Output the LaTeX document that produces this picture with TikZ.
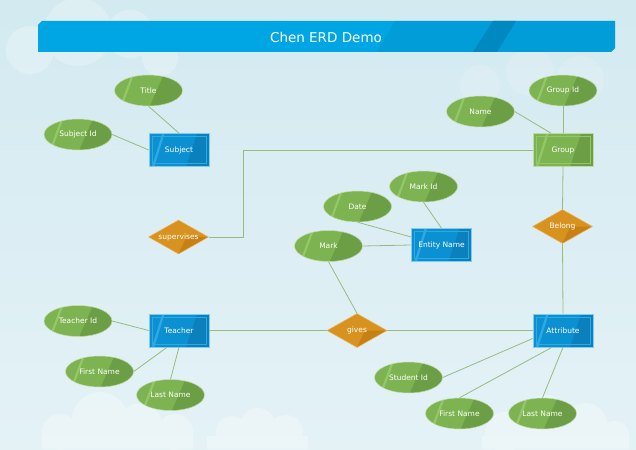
\documentclass[tikz,border=0pt]{standalone}
\usepackage{fontspec}
\setmainfont{DejaVu Sans}
\usetikzlibrary{shapes.geometric,calc}
\definecolor{bgtop}{HTML}{D3EAF1}
\definecolor{bgbot}{HTML}{E4F2F6}
\definecolor{gmid}{HTML}{7DB351}
\definecolor{gdark}{HTML}{6C9F45}
\definecolor{glight}{HTML}{94C768}
\definecolor{bmid}{HTML}{0B90D1}
\definecolor{bdark}{HTML}{0A80BD}
\definecolor{blight}{HTML}{2FA9E4}
\definecolor{omid}{HTML}{D8921F}
\definecolor{odark}{HTML}{C68014}
\definecolor{olight}{HTML}{EDB45A}
\definecolor{linec}{HTML}{97BC80}
\definecolor{barc}{HTML}{00A6E3}
\definecolor{bardark}{HTML}{0089C0}
\tikzset{
  attr/.style={ellipse, minimum width=68pt, minimum height=31pt, inner sep=0pt,
    fill=gmid, draw=white!55!gmid, line width=0.5pt, text=white,
    font=\fontsize{7.5}{8}\selectfont,
    path picture={
      \fill[gdark] ($(path picture bounding box.north west)!0.72!(path picture bounding box.north east)$)
        -- (path picture bounding box.north east) -- (path picture bounding box.south east)
        -- ($(path picture bounding box.south west)!0.52!(path picture bounding box.south east)$) -- cycle;
      \fill[glight] ($(path picture bounding box.north west)!0.25!(path picture bounding box.north east)$)
        -- ($(path picture bounding box.north west)!0.285!(path picture bounding box.north east)$)
        -- ($(path picture bounding box.south west)!0.115!(path picture bounding box.south east)$)
        -- ($(path picture bounding box.south west)!0.08!(path picture bounding box.south east)$) -- cycle;
    }},
  entbox/.style={rectangle, minimum width=60pt, minimum height=33pt, inner sep=0pt,
    fill=bmid, draw=blight!60!white, line width=0.6pt, text=white,
    font=\fontsize{7.5}{8}\selectfont,
    path picture={
      \fill[bdark] ($(path picture bounding box.north west)!0.80!(path picture bounding box.north east)$)
        -- (path picture bounding box.north east) -- (path picture bounding box.south east)
        -- ($(path picture bounding box.south west)!0.62!(path picture bounding box.south east)$) -- cycle;
      \fill[blight] ($(path picture bounding box.north west)!0.22!(path picture bounding box.north east)$)
        -- ($(path picture bounding box.north west)!0.26!(path picture bounding box.north east)$)
        -- ($(path picture bounding box.south west)!0.09!(path picture bounding box.south east)$)
        -- ($(path picture bounding box.south west)!0.05!(path picture bounding box.south east)$) -- cycle;
      \draw[blight, line width=0.5pt] ([shift={(3pt,-3pt)}]path picture bounding box.north west)
        rectangle ([shift={(-3pt,3pt)}]path picture bounding box.south east);
    }},
  grpbox/.style={entbox, fill=gmid, draw=white!50!gmid,
    path picture={
      \fill[gdark] ($(path picture bounding box.north west)!0.80!(path picture bounding box.north east)$)
        -- (path picture bounding box.north east) -- (path picture bounding box.south east)
        -- ($(path picture bounding box.south west)!0.62!(path picture bounding box.south east)$) -- cycle;
      \fill[glight] ($(path picture bounding box.north west)!0.22!(path picture bounding box.north east)$)
        -- ($(path picture bounding box.north west)!0.26!(path picture bounding box.north east)$)
        -- ($(path picture bounding box.south west)!0.09!(path picture bounding box.south east)$)
        -- ($(path picture bounding box.south west)!0.05!(path picture bounding box.south east)$) -- cycle;
      \draw[glight, line width=0.5pt] ([shift={(3pt,-3pt)}]path picture bounding box.north west)
        rectangle ([shift={(-3pt,3pt)}]path picture bounding box.south east);
    }},
  rel/.style={diamond, minimum width=60pt, minimum height=34pt, inner sep=0pt,
    fill=omid, draw=olight, line width=0.5pt,
    path picture={
      \fill[odark] (path picture bounding box.east) -- (path picture bounding box.south)
        -- ($(path picture bounding box.south)!0.5!(path picture bounding box.north)+(8pt,0)$) -- cycle;
    },
    label={[text=white, font=\fontsize{7.5}{8}\selectfont]center:#1}},
  conn/.style={draw=linec, line width=0.8pt},
  cloud/.style={fill=white, fill opacity=0.3, draw=none}
}
\begin{document}
\begin{tikzpicture}[x=1pt,y=-1pt]
\useasboundingbox (0,0) rectangle (636,449);
% background
\fill[top color=bgtop, bottom color=bgbot] (0,0) rectangle (636,449);
\fill[cloud, fill opacity=0.25] (30,50) circle (24pt) (78,32) circle (34pt) (130,34) circle (24pt) (160,58) circle (18pt);
\fill[cloud, fill opacity=0.15] (480,85) circle (20pt) (530,72) circle (24pt) (580,80) circle (24pt);
\fill[cloud] (60,432) circle (18pt) (100,420) circle (28pt) (140,425) circle (22pt) (175,432) circle (18pt) (42,432) rectangle (193,449);
\fill[cloud] (232,432) circle (16pt) (258,425) circle (17pt) (286,432) circle (17pt) (207,436) rectangle (308,449);
\fill[cloud] (505,432) circle (20pt) (545,420) circle (25pt) (585,425) circle (22pt) (615,435) circle (14pt) (482,436) rectangle (629,449);
% title bar
\fill[barc] (38,25) -- (42,21) -- (615,21) -- (615,48) -- (611,52) -- (38,52) -- cycle;
\fill[bardark, opacity=0.3] (395,21) -- (615,21) -- (615,48) -- (611,52) -- (377,52) -- cycle;
\fill[bardark] (493,21) -- (516,21) -- (497,52) -- (473,52) -- cycle;
\node[text=white, font=\fontsize{13.5}{15}\selectfont] (ttl) at (326,37) {Chen ERD Demo};
% entities
\node[entbox] (subject) at (179,150) {Subject};
\node[grpbox] (group) at (563,150) {Group};
\node[entbox] (ent) at (441.5,245) {Entity Name};
\node[entbox] (teacher) at (179,330.5) {Teacher};
\node[entbox] (attrib) at (563,330.5) {Attribute};
% attributes
\node[attr] (title) at (148.5,90.5) {Title};
\node[attr] (subid) at (78,134.5) {Subject Id};
\node[attr] (gid) at (563,90.5) {Group Id};
\node[attr] (gname) at (480.5,111.5) {Name};
\node[attr] (markid) at (423.5,186.5) {Mark Id};
\node[attr] (date) at (357.5,206.5) {Date};
\node[attr] (mark) at (328.5,246) {Mark};
\node[attr] (tid) at (78,321) {Teacher Id};
\node[attr] (fn1) at (99.5,371.5) {First Name};
\node[attr] (ln1) at (170.5,395) {Last Name};
\node[attr] (sid) at (408.5,377.5) {Student Id};
\node[attr] (fn2) at (459.5,413.5) {First Name};
\node[attr] (ln2) at (542.5,413.5) {Last Name};
% relationships
\node[rel=supervises] (sup) at (178.5,237) {};
\node[rel=Belong] (belong) at (562.5,226.5) {};
\node[rel=gives] (gives) at (357,330.5) {};
\coordinate (bend) at (243.5,150);
% connectors
\path[conn] (title.south) -- (subject.north);
\path[conn] (subid.east) -- (subject.west);
\path[conn] (gid.south) -- (group.north);
\path[conn] (gname.east) -- ($(group.north)+(-12,0)$);
\path[conn] (sup.east) -| (bend) -- (group.west);
\path[conn] (group.south) -- (belong.north);
\path[conn] (belong.south) -- (attrib.north);
\path[conn] (markid.south) -- (ent.north);
\path[conn] (date.south) -- ($(ent.west)+(0,-8)$);
\path[conn] (mark.east) -- (ent.west);
\path[conn] (mark.south) -- (gives.north);
\path[conn] (teacher.east) -- (gives.west);
\path[conn] (gives.east) -- (attrib.west);
\path[conn] (tid.east) -- (teacher.west);
\path[conn] (fn1.east) -- ($(teacher.south)+(-12,0)$);
\path[conn] (ln1.north) -- (teacher.south);
\path[conn] (sid.east) -- ($(attrib.west)+(0,8)$);
\path[conn] (fn2.north) -- ($(attrib.south)+(-11,0)$);
\path[conn] (ln2.north) -- (attrib.south);
\end{tikzpicture}
\end{document}
